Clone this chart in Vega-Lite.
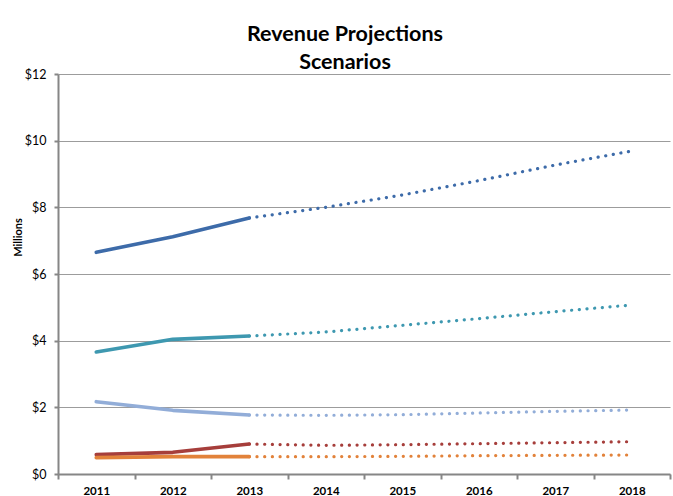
{
  "$schema": "https://vega.github.io/schema/vega-lite/v6.json",
  "width": 612,
  "height": 400,
  "autosize": {"type": "none"},
  "padding": {"left": 58, "top": 74, "right": 3, "bottom": 22},
  "background": "white",
  "title": {
    "text": ["Revenue Projections", "Scenarios"],
    "font": "Lato",
    "fontSize": 21.5,
    "fontWeight": "bold",
    "color": "#000000",
    "lineHeight": 28,
    "anchor": "middle",
    "frame": "group",
    "dx": -19,
    "offset": -5
  },
  "config": {
    "view": {"stroke": null},
    "font": "Lato"
  },
  "data": {
    "values": [
      {"series": "A", "year": "2011", "value": 6.65, "phase": "Actual"},
      {"series": "A", "year": "2012", "value": 7.12, "phase": "Actual"},
      {"series": "A", "year": "2013", "value": 7.68, "phase": "Actual"},
      {"series": "A", "year": "2013", "value": 7.68, "phase": "Projected"},
      {"series": "A", "year": "2014", "value": 8.0, "phase": "Projected"},
      {"series": "A", "year": "2015", "value": 8.37, "phase": "Projected"},
      {"series": "A", "year": "2016", "value": 8.8, "phase": "Projected"},
      {"series": "A", "year": "2017", "value": 9.27, "phase": "Projected"},
      {"series": "A", "year": "2018", "value": 9.69, "phase": "Projected"},
      {"series": "B", "year": "2011", "value": 3.66, "phase": "Actual"},
      {"series": "B", "year": "2012", "value": 4.04, "phase": "Actual"},
      {"series": "B", "year": "2013", "value": 4.14, "phase": "Actual"},
      {"series": "B", "year": "2013", "value": 4.14, "phase": "Projected"},
      {"series": "B", "year": "2014", "value": 4.26, "phase": "Projected"},
      {"series": "B", "year": "2015", "value": 4.46, "phase": "Projected"},
      {"series": "B", "year": "2016", "value": 4.66, "phase": "Projected"},
      {"series": "B", "year": "2017", "value": 4.87, "phase": "Projected"},
      {"series": "B", "year": "2018", "value": 5.07, "phase": "Projected"},
      {"series": "C", "year": "2011", "value": 2.17, "phase": "Actual"},
      {"series": "C", "year": "2012", "value": 1.91, "phase": "Actual"},
      {"series": "C", "year": "2013", "value": 1.77, "phase": "Actual"},
      {"series": "C", "year": "2013", "value": 1.77, "phase": "Projected"},
      {"series": "C", "year": "2014", "value": 1.76, "phase": "Projected"},
      {"series": "C", "year": "2015", "value": 1.78, "phase": "Projected"},
      {"series": "C", "year": "2016", "value": 1.83, "phase": "Projected"},
      {"series": "C", "year": "2017", "value": 1.88, "phase": "Projected"},
      {"series": "C", "year": "2018", "value": 1.92, "phase": "Projected"},
      {"series": "D", "year": "2011", "value": 0.58, "phase": "Actual"},
      {"series": "D", "year": "2012", "value": 0.65, "phase": "Actual"},
      {"series": "D", "year": "2013", "value": 0.9, "phase": "Actual"},
      {"series": "D", "year": "2013", "value": 0.9, "phase": "Projected"},
      {"series": "D", "year": "2014", "value": 0.86, "phase": "Projected"},
      {"series": "D", "year": "2015", "value": 0.88, "phase": "Projected"},
      {"series": "D", "year": "2016", "value": 0.91, "phase": "Projected"},
      {"series": "D", "year": "2017", "value": 0.94, "phase": "Projected"},
      {"series": "D", "year": "2018", "value": 0.97, "phase": "Projected"},
      {"series": "E", "year": "2011", "value": 0.49, "phase": "Actual"},
      {"series": "E", "year": "2012", "value": 0.52, "phase": "Actual"},
      {"series": "E", "year": "2013", "value": 0.52, "phase": "Actual"},
      {"series": "E", "year": "2013", "value": 0.52, "phase": "Projected"},
      {"series": "E", "year": "2014", "value": 0.52, "phase": "Projected"},
      {"series": "E", "year": "2015", "value": 0.53, "phase": "Projected"},
      {"series": "E", "year": "2016", "value": 0.55, "phase": "Projected"},
      {"series": "E", "year": "2017", "value": 0.56, "phase": "Projected"},
      {"series": "E", "year": "2018", "value": 0.57, "phase": "Projected"}
    ]
  },
  "encoding": {
    "x": {
      "field": "year",
      "type": "ordinal",
      "scale": {"type": "band", "paddingInner": 0, "paddingOuter": 0},
      "axis": {
        "title": null,
        "labelAngle": 0,
        "labelFont": "Lato",
        "labelFontSize": 11.5,
        "labelFontWeight": "bold",
        "labelColor": "#000000",
        "labelPadding": 6,
        "tickBand": "extent",
        "tickSize": 5,
        "tickColor": "#868686",
        "tickWidth": 2,
        "domainColor": "#868686",
        "domainWidth": 2,
        "grid": false
      }
    },
    "y": {
      "field": "value",
      "type": "quantitative",
      "scale": {"domain": [0, 12], "nice": false},
      "axis": {
        "title": "Millions",
        "titleFont": "Lato",
        "titleFontSize": 11,
        "titleFontWeight": "bold",
        "titleColor": "#000000",
        "titleX": -40,
        "titleY": 163,
        "titleAngle": -90,
        "titleAlign": "center",
        "titleBaseline": "middle",
        "values": [0, 2, 4, 6, 8, 10, 12],
        "labelExpr": "'$' + datum.value",
        "labelFont": "Lato",
        "labelFontSize": 12.5,
        "labelColor": "#000000",
        "labelPadding": 8,
        "tickSize": 4,
        "tickColor": "#868686",
        "tickWidth": 2,
        "domainColor": "#868686",
        "domainWidth": 2,
        "grid": true,
        "gridColor": "#9c9c9c",
        "gridWidth": 1.2
      }
    },
    "color": {
      "field": "series",
      "type": "nominal",
      "legend": null,
      "scale": {
        "domain": ["A", "B", "C", "D", "E"],
        "range": ["#3D6BA9", "#3E98B0", "#92ADD8", "#A63E3B", "#E2823A"]
      }
    }
  },
  "layer": [
    {
      "transform": [{"filter": "datum.phase === 'Actual'"}],
      "mark": {"type": "line", "strokeWidth": 3.6, "strokeCap": "round", "strokeJoin": "round"}
    },
    {
      "transform": [{"filter": "datum.phase === 'Projected'"}],
      "mark": {"type": "line", "strokeWidth": 3.2, "strokeCap": "round", "strokeDash": [0.1, 7.6]}
    }
  ]
}
